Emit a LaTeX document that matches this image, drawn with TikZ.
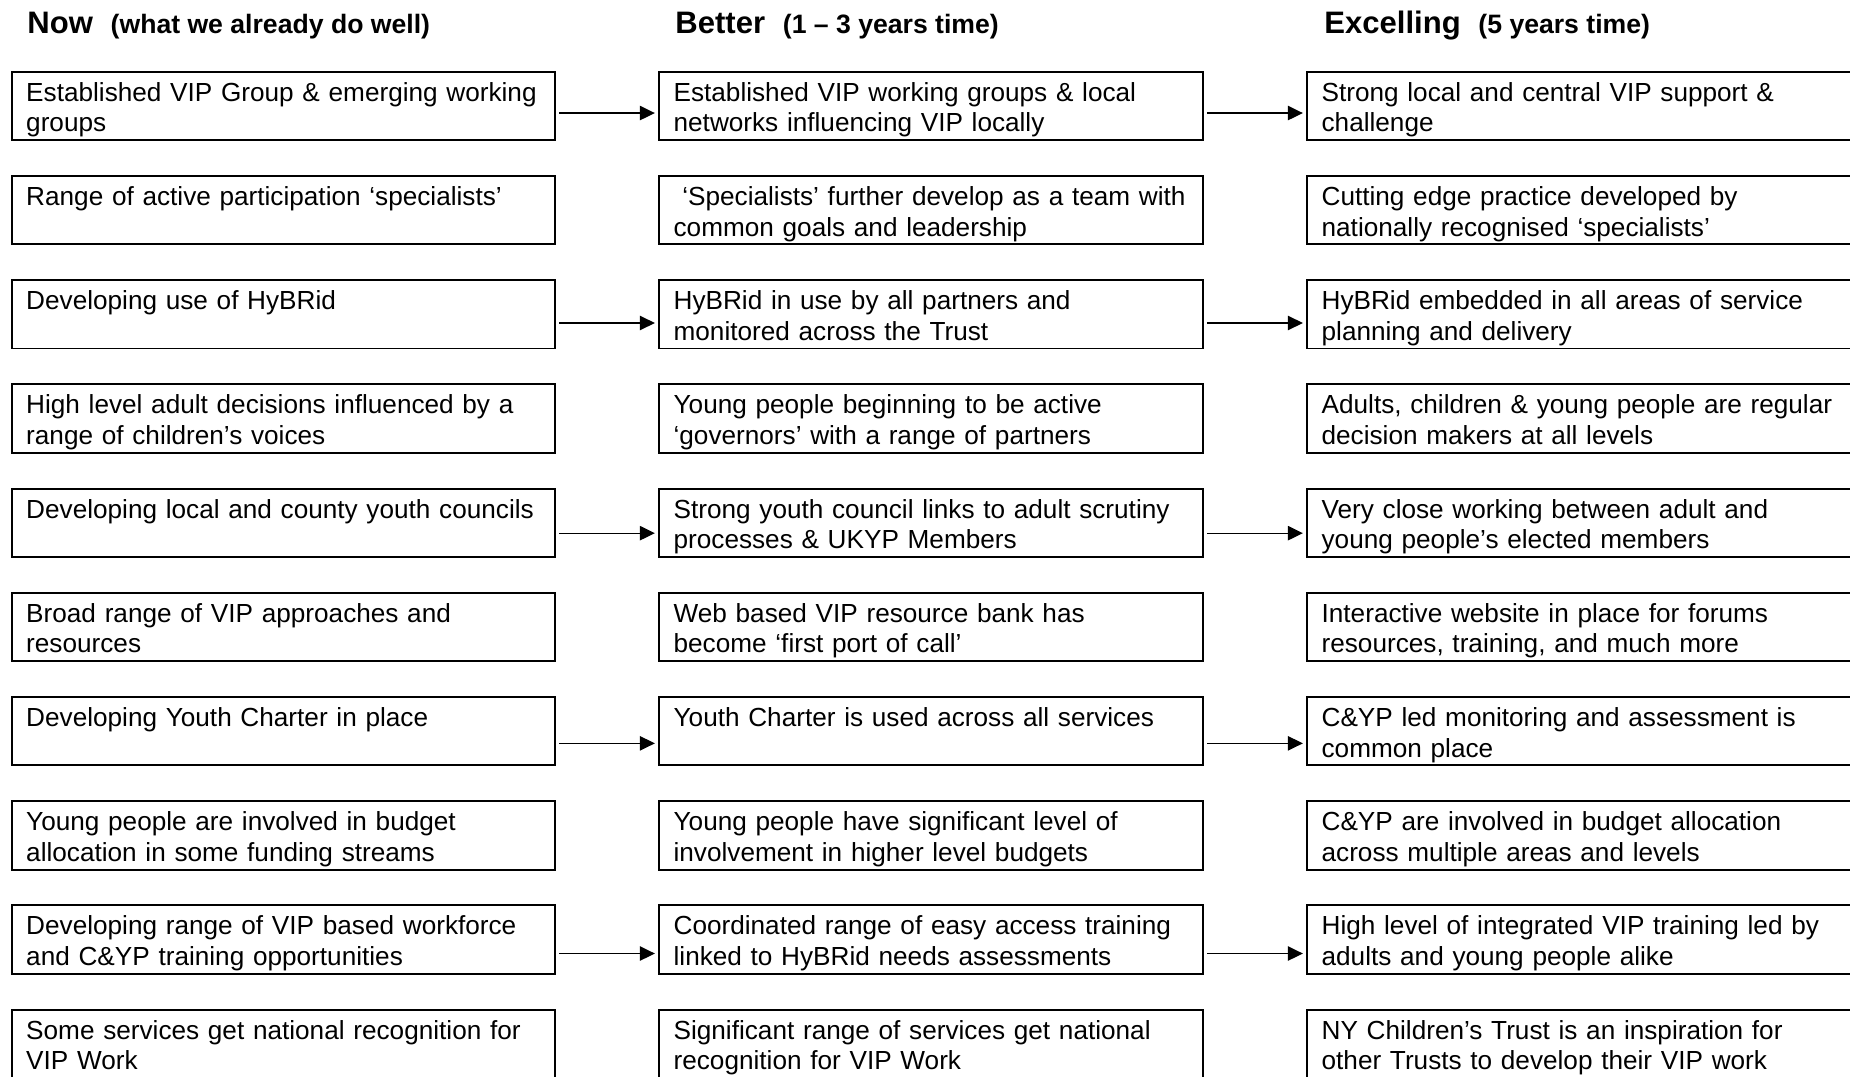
\documentclass[tikz,border=0pt]{standalone}
\usepackage{fontspec}
\setmainfont{Liberation Sans}
\usetikzlibrary{positioning,arrows.meta}
\newcommand{\subhead}[1]{{\fontsize{12pt}{14pt}\selectfont #1}}

\begin{document}
\begin{tikzpicture}[x=0.451pt, y=-0.451pt,
  card/.style={draw, line width=0.9pt, fill=white, anchor=north west, inner xsep=6.6pt, inner ysep=2pt,
    text width=232pt, text height=11.3pt, text depth=15.5pt, align=left, font=\fontsize{11.8pt}{13.8pt}\selectfont},
  head/.style={anchor=base west, inner sep=0pt, font=\bfseries\fontsize{14pt}{16pt}\selectfont},
  flow/.style={-{Triangle[length=6.8pt, width=6.5pt]}, line width=0.6pt, shorten <=1.4pt, shorten >=1.4pt}]
\useasboundingbox (0, 0) rectangle (1850, 1076);

\path (27, 33) node[head] (now_head) {Now\hspace{8pt}\subhead{(what we already do well)}};
\path (675, 33) node[head] (better_head) {Better\hspace{8pt}\subhead{(1 – 3 years time)}};
\path (1324, 33) node[head] (excel_head) {Excelling\hspace{8pt}\subhead{(5 years time)}};

% now
\path (10.6, 70.8) node[card] (now_1) {Established VIP Group \& emerging working\\groups};
\path (10.6, 175.0) node[card] (now_2) {Range of active participation ‘specialists’};
\path (10.6, 279.2) node[card] (now_3) {Developing use of HyBRid};
\path (10.6, 383.4) node[card] (now_4) {High level adult decisions influenced by a\\range of children’s voices};
\path (10.6, 487.6) node[card] (now_5) {Developing local and county youth councils};
\path (10.6, 591.8) node[card] (now_6) {Broad range of VIP approaches and\\resources};
\path (10.6, 696.0) node[card] (now_7) {Developing Youth Charter in place};
\path (10.6, 800.2) node[card] (now_8) {Young people are involved in budget\\allocation in some funding streams};
\path (10.6, 904.4) node[card] (now_9) {Developing range of VIP based workforce\\and C\&YP training opportunities};
\path (10.6, 1008.6) node[card] (now_10) {Some services get national recognition for\\VIP Work};

% better
\path (658, 70.8) node[card] (better_1) {Established VIP working groups \& local\\networks influencing VIP locally};
\path (658, 175.0) node[card] (better_2) {\ ‘Specialists’ further develop as a team with\\common goals and leadership};
\path (658, 279.2) node[card] (better_3) {HyBRid in use by all partners and\\monitored across the Trust};
\path (658, 383.4) node[card] (better_4) {Young people beginning to be active\\‘governors’ with a range of partners};
\path (658, 487.6) node[card] (better_5) {Strong youth council links to adult scrutiny\\processes \& UKYP Members};
\path (658, 591.8) node[card] (better_6) {Web based VIP resource bank has\\become ‘first port of call’};
\path (658, 696.0) node[card] (better_7) {Youth Charter is used across all services};
\path (658, 800.2) node[card] (better_8) {Young people have significant level of\\involvement in higher level budgets};
\path (658, 904.4) node[card] (better_9) {Coordinated range of easy access training\\linked to HyBRid needs assessments};
\path (658, 1008.6) node[card] (better_10) {Significant range of services get national\\recognition for VIP Work};

% excelling
\path (1306, 70.8) node[card] (excel_1) {Strong local and central VIP support \&\\challenge};
\path (1306, 175.0) node[card] (excel_2) {Cutting edge practice developed by\\nationally recognised ‘specialists’};
\path (1306, 279.2) node[card] (excel_3) {HyBRid embedded in all areas of service\\planning and delivery};
\path (1306, 383.4) node[card] (excel_4) {Adults, children \& young people are regular\\decision makers at all levels};
\path (1306, 487.6) node[card] (excel_5) {Very close working between adult and\\young people’s elected members};
\path (1306, 591.8) node[card] (excel_6) {Interactive website in place for forums\\resources, training, and much more};
\path (1306, 696.0) node[card] (excel_7) {C\&YP led monitoring and assessment is\\common place};
\path (1306, 800.2) node[card] (excel_8) {C\&YP are involved in budget allocation\\across multiple areas and levels};
\path (1306, 904.4) node[card] (excel_9) {High level of integrated VIP training led by\\adults and young people alike};
\path (1306, 1008.6) node[card] (excel_10) {NY Children’s Trust is an inspiration for\\other Trusts to develop their VIP work};

\draw[flow] ([yshift=-3.2pt]now_1.east) -- ([yshift=-3.2pt]better_1.west);
\draw[flow] ([yshift=-3.2pt]better_1.east) -- ([yshift=-3.2pt]excel_1.west);
\draw[flow] ([yshift=-3.9pt]now_3.east) -- ([yshift=-3.9pt]better_3.west);
\draw[flow] ([yshift=-3.9pt]better_3.east) -- ([yshift=-3.9pt]excel_3.west);
\draw[flow] ([yshift=-4.7pt]now_5.east) -- ([yshift=-4.7pt]better_5.west);
\draw[flow] ([yshift=-4.7pt]better_5.east) -- ([yshift=-4.7pt]excel_5.west);
\draw[flow] ([yshift=-5.5pt]now_7.east) -- ([yshift=-5.5pt]better_7.west);
\draw[flow] ([yshift=-5.5pt]better_7.east) -- ([yshift=-5.5pt]excel_7.west);
\draw[flow] ([yshift=-6.3pt]now_9.east) -- ([yshift=-6.3pt]better_9.west);
\draw[flow] ([yshift=-6.3pt]better_9.east) -- ([yshift=-6.3pt]excel_9.west);
\end{tikzpicture}
\end{document}
